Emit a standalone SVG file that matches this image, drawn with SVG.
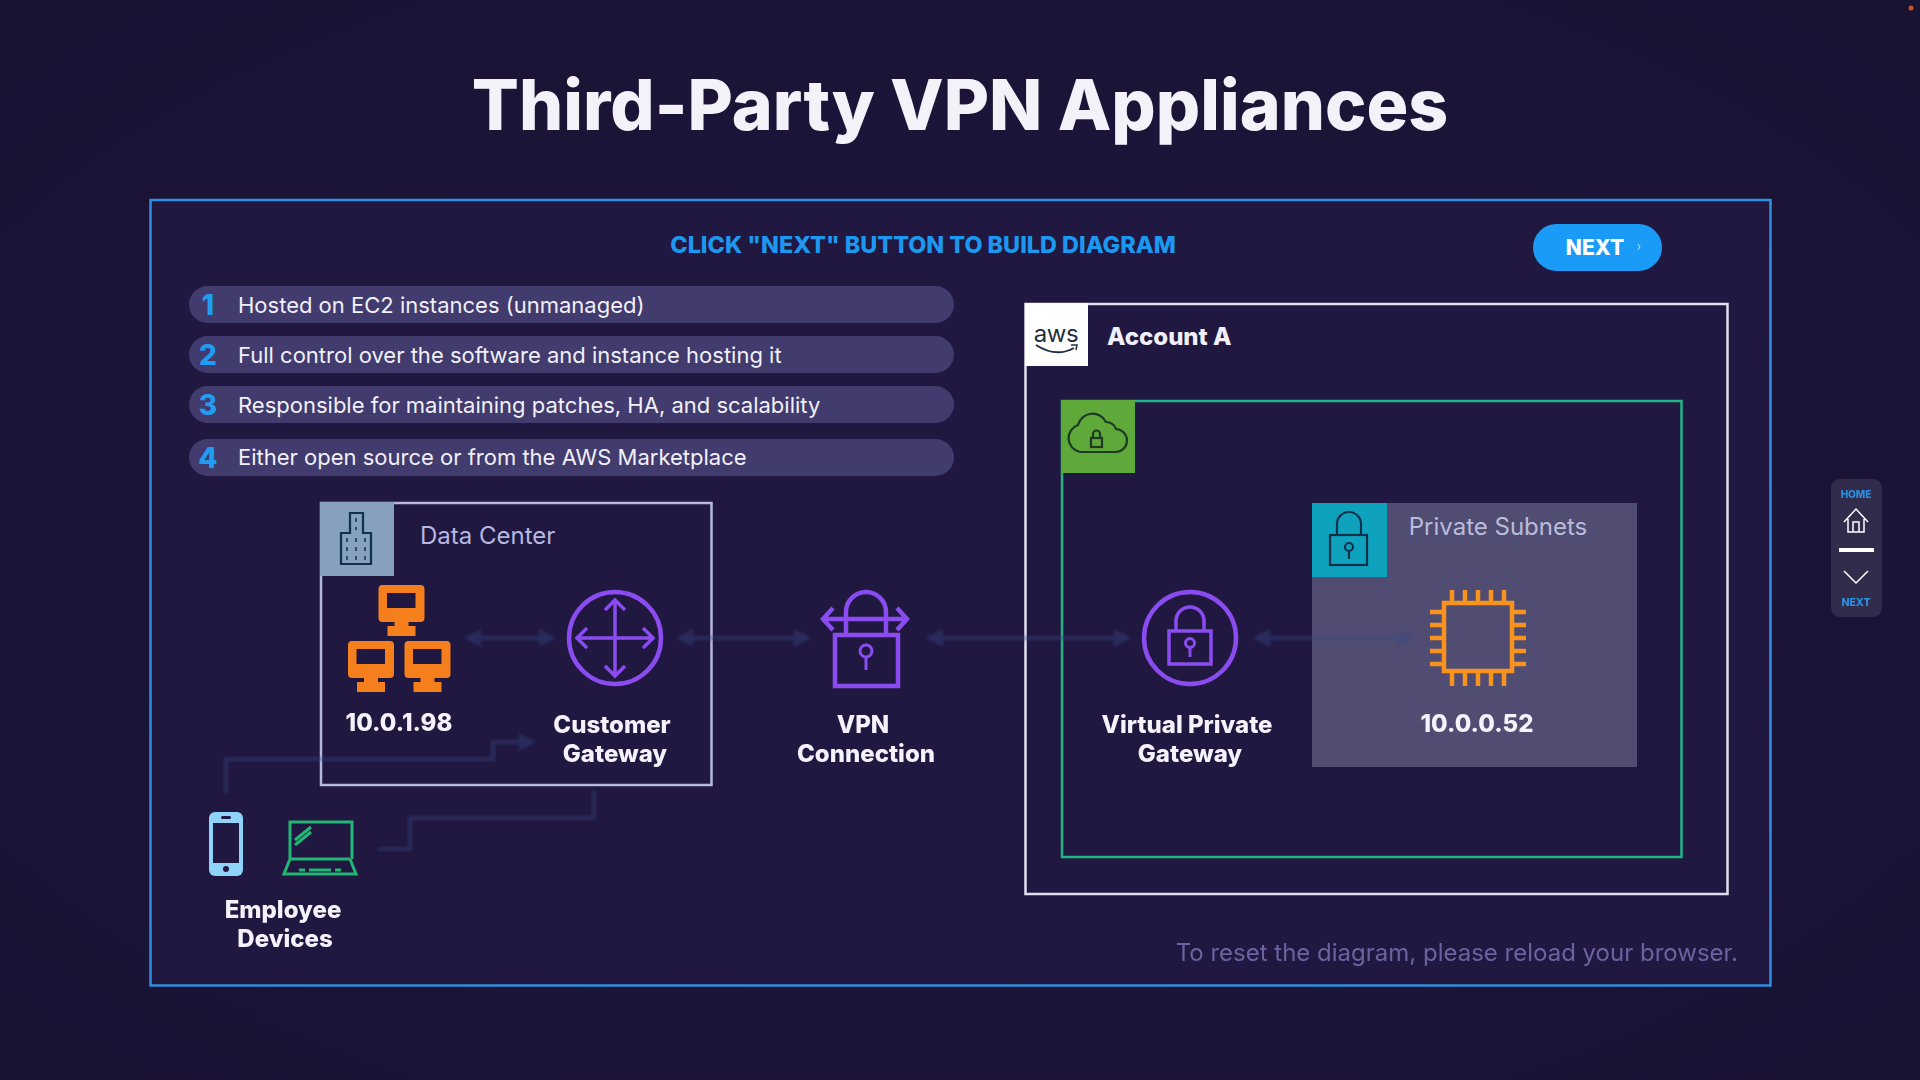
<svg xmlns="http://www.w3.org/2000/svg" width="1920" height="1080" viewBox="0 0 1920 1080">
<style>
text{font-family:Inter,"Liberation Sans",sans-serif}
.lbl{font-size:24px;font-weight:800;fill:#f4f3fb;text-anchor:middle}
.pill{fill:#413b6e}
.pt{font-size:22px;fill:#f1f0f8}
.pn{font-size:28px;font-weight:800;fill:#1f9df3;text-anchor:middle}
.ic{fill:none;stroke:#8a4cf0;stroke-width:4.5}
.or{fill:#f47f1c}
.scr{fill:#201840}
.chip{fill:none;stroke:#f7931e;stroke-width:4.5}
.dk{fill:none;stroke:#12304a;stroke-width:2.2}
.conn{fill:none;stroke:#3a4a85;stroke-width:4;opacity:.42}
</style>
<defs>
<radialGradient id="bg" cx="50%" cy="50%" r="75%"><stop offset="0" stop-color="#1f173f"/><stop offset="1" stop-color="#181232"/></radialGradient>
<marker id="ah" viewBox="0 0 10 10" refX="8" refY="5" markerWidth="4.5" markerHeight="5.5" orient="auto-start-reverse"><path d="M0 0L10 5L0 10Z" fill="#3a4a85"/></marker>
<filter id="soft" filterUnits="userSpaceOnUse" x="150" y="500" width="1500" height="400"><feGaussianBlur stdDeviation="1.500"/></filter>
<g id="pc"><path class="or" d="M4 0H42a4 4 0 0 1 4 4V33a4 4 0 0 1-4 4H30V41H37V51H9V41H16V37H4a4 4 0 0 1-4-4V4a4 4 0 0 1 4-4Z"/><rect class="scr" x="8.500" y="8" width="28.500" height="15"/></g>
</defs>
<rect width="1920" height="1080" fill="url(#bg)"/>
<circle cx="1911" cy="8" r="2.500" fill="#c8502a"/>
<text x="960" y="130" text-anchor="middle" style="font-size:69.700px;font-weight:800;fill:#f3f2f9">Third-Party VPN Appliances</text>
<rect x="150.500" y="200" width="1620" height="785.500" fill="#201840" stroke="#2f8fe0" stroke-width="2.500"/>
<text x="923" y="253" text-anchor="middle" style="font-size:23.400px;font-weight:800;fill:#1d98f0">CLICK "NEXT" BUTTON TO BUILD DIAGRAM</text>
<g id="next-button"><rect x="1533" y="224" width="129" height="47" rx="23.500" fill="#1a9bf7"/><text x="1595" y="255" text-anchor="middle" style="font-size:21px;font-weight:800;fill:#fff">NEXT</text><path d="M1638 244l2 3l-2 3" fill="none" stroke="#bfe3fb" stroke-width="1"/></g>

<g id="points">
<rect class="pill" x="189" y="286" width="765" height="37" rx="18.500"/><text class="pn" x="208" y="315">1</text><text class="pt" x="238" y="312.500">Hosted on EC2 instances (unmanaged)</text>
<rect class="pill" x="189" y="336" width="765" height="37" rx="18.500"/><text class="pn" x="208" y="365">2</text><text class="pt" x="238" y="362.500">Full control over the software and instance hosting it</text>
<rect class="pill" x="189" y="386" width="765" height="37" rx="18.500"/><text class="pn" x="208" y="415">3</text><text class="pt" x="238" y="412.500">Responsible for maintaining patches, HA, and scalability</text>
<rect class="pill" x="189" y="439" width="765" height="37" rx="18.500"/><text class="pn" x="208" y="468">4</text><text class="pt" x="238" y="465">Either open source or from the AWS Marketplace</text>
</g>

<g id="account-a"><rect x="1025.500" y="304" width="702" height="590" fill="none" stroke="#e0def0" stroke-width="2.500"/><rect x="1025" y="303" width="63" height="63" fill="#fff"/>
<text x="1056" y="342" text-anchor="middle" style="font-size:24px;fill:#232f3e;letter-spacing:-.5px">aws</text>
<path d="M1036 345q20 13 38 3" fill="none" stroke="#232f3e" stroke-width="2"/><path d="M1071 345l6 0l-1 5" fill="none" stroke="#232f3e" stroke-width="1.500"/>
<text x="1107" y="345" style="font-size:24px;font-weight:800;fill:#f1eff9">Account A</text></g>

<g id="vpc"><rect x="1062" y="401" width="619.500" height="456" fill="none" stroke="#1fb585" stroke-width="2.500"/><rect x="1061" y="400" width="74" height="73" fill="#5fa83a"/>
<path class="dk" style="stroke:#1c3a24" d="M1080 452a14 14 0 0 1-2-27a15 15 0 0 1 28-3a11 11 0 0 1 10 7a11.500 11.500 0 0 1-1 23Z"/><rect class="dk" style="stroke:#1c3a24" x="1091" y="438" width="11" height="9"/><path class="dk" style="stroke:#1c3a24" d="M1093 438v-4a3.500 3.500 0 0 1 7 0v4"/></g>

<g id="private-subnets"><rect x="1312" y="503" width="325" height="264" fill="#514c72"/><rect x="1312" y="503" width="75" height="74" fill="#0ea2bd"/>
<rect class="dk" x="1330" y="535" width="37" height="30"/><path class="dk" d="M1337 535v-11a11.500 11.500 0 0 1 24 0v11"/><circle class="dk" cx="1349" cy="547" r="4"/><path class="dk" d="M1349 551v8"/>
<text x="1498" y="535" text-anchor="middle" style="font-size:24px;fill:#b9bcdc">Private Subnets</text></g>

<g id="data-center"><rect x="321" y="503" width="390.500" height="282" fill="none" stroke="#b6b8e2" stroke-width="2.500"/><rect x="320" y="502" width="74" height="74" fill="#86a0bd"/>
<path class="dk" d="M341 533H350V513H363V533H371V564H341Z"/><path class="dk" style="stroke-dasharray:4 5;stroke-width:1.500" d="M356 518V530M347 538V562M356 538V562M365 538V562"/>
<text x="420" y="544" style="font-size:24px;fill:#b6b8e2">Data Center</text></g>

<g id="connectors" filter="url(#soft)">
<path class="conn" d="M467 638H553" marker-start="url(#ah)" marker-end="url(#ah)"/>
<path class="conn" d="M679 638H808" marker-start="url(#ah)" marker-end="url(#ah)"/>
<path class="conn" d="M929 638H1128" marker-start="url(#ah)" marker-end="url(#ah)"/>
<path class="conn" d="M1256 638H1412" marker-start="url(#ah)" marker-end="url(#ah)"/>
<path class="conn" d="M226 793V759H493V742H533" marker-end="url(#ah)"/>
<path class="conn" d="M378 849H410V818H594V790"/>
</g>

<g id="servers"><use href="#pc" x="378.500" y="585"/><use href="#pc" x="348" y="641"/><use href="#pc" x="404.500" y="641"/>
<text class="lbl" x="399" y="731">10.0.1.98</text></g>

<g id="customer-gateway"><circle class="ic" cx="615" cy="638" r="46"/><path class="ic" style="stroke-width:3.500" d="M615 600V676M577 638H653M605 610L615 600L625 610M605 666L615 676L625 666M587 628L577 638L587 648M643 628L653 638L643 648"/>
<text class="lbl" x="612" y="733">Customer</text><text class="lbl" x="615" y="762">Gateway</text></g>

<g id="vpn-connection"><rect class="ic" x="835" y="635" width="63" height="51"/><path class="ic" d="M846 619V612a20 20 0 0 1 40 0V619M846 619V635M886 619V635"/><path class="ic" d="M824 619H907M833 608L823 619L833 630M897 608L907 619L897 630"/><circle class="ic" style="stroke-width:3" cx="866" cy="651" r="6"/><path class="ic" style="stroke-width:3" d="M866 657V670"/>
<text class="lbl" x="863" y="733">VPN</text><text class="lbl" x="866" y="762">Connection</text></g>

<g id="virtual-private-gateway"><circle class="ic" cx="1190" cy="638" r="46"/><rect class="ic" style="stroke-width:3.500" x="1169" y="631" width="42" height="33"/><path class="ic" style="stroke-width:3.500" d="M1176 631V621a14 14 0 0 1 28 0V631"/><circle class="ic" style="stroke-width:3" cx="1190" cy="643" r="4.500"/><path class="ic" style="stroke-width:3" d="M1190 648V657"/>
<text class="lbl" x="1187" y="733">Virtual Private</text><text class="lbl" x="1190" y="762">Gateway</text></g>

<g id="instance"><rect class="chip" x="1444" y="603" width="68" height="68"/><path class="chip" d="M1452 590V603M1465 590V603M1478 590V603M1491 590V603M1504 590V603M1452 671V686M1465 671V686M1478 671V686M1491 671V686M1504 671V686M1430 612H1444M1430 625H1444M1430 638H1444M1430 651H1444M1430 664H1444M1512 612H1526M1512 625H1526M1512 638H1526M1512 651H1526M1512 664H1526"/>
<text class="lbl" x="1477" y="732">10.0.0.52</text></g>

<g id="employee-devices"><rect x="209" y="812" width="34" height="64" rx="6" fill="#8fd4f8"/><rect class="scr" x="213" y="823" width="26" height="40"/><rect class="scr" x="221" y="816" width="10" height="3" rx="1.500"/><circle class="scr" cx="226" cy="869" r="3"/>
<g fill="none" stroke="#22b573" stroke-width="3"><path d="M290 859V822H352V859M290 859H350M290 859L284 874H356L350 859M295 840L311 827M295 845L311 832" /></g><path stroke="#22b573" stroke-width="3" d="M299 870H305M309 870H331M335 870H341"/>
<text class="lbl" x="283" y="918">Employee</text><text class="lbl" x="285" y="947">Devices</text></g>

<text x="1738" y="961" text-anchor="end" style="font-size:24px;fill:#6a63a0">To reset the diagram, please reload your browser.</text>

<g id="nav"><rect x="1831" y="479" width="51" height="138" rx="9" fill="#312b4c"/>
<text x="1856" y="498" text-anchor="middle" style="font-size:10px;font-weight:800;fill:#2a90e2">HOME</text>
<path d="M1844 522L1856 509L1868 522M1848 519V532H1864V519M1853 532V522H1859V532" fill="none" stroke="#fff" stroke-width="1.500"/>
<rect x="1839" y="548" width="35" height="4" fill="#fff"/>
<path d="M1844 571L1856 583L1868 571" fill="none" stroke="#fff" stroke-width="1.500"/>
<text x="1856" y="606" text-anchor="middle" style="font-size:10.500px;font-weight:800;fill:#2a90e2">NEXT</text></g>
</svg>
